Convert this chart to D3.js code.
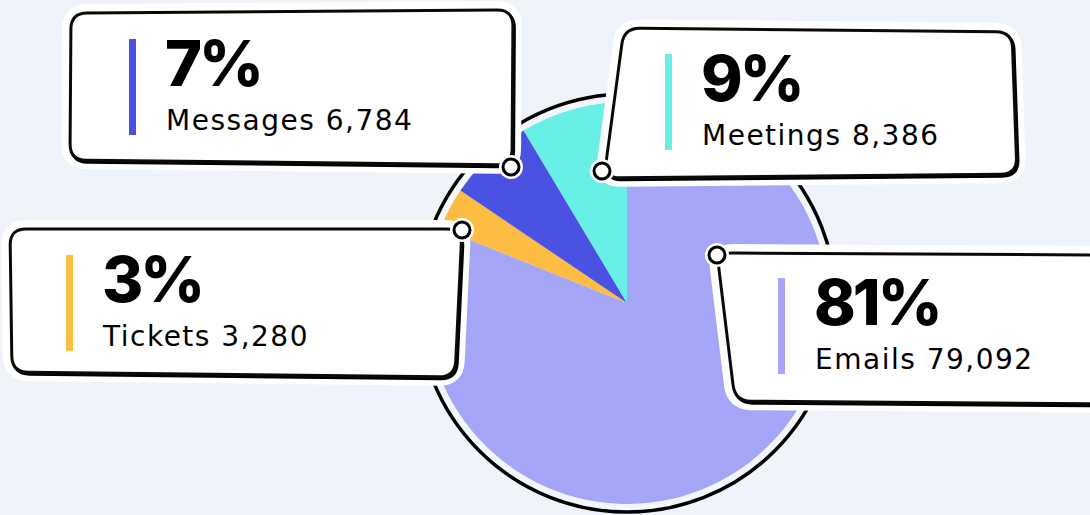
<!DOCTYPE html>
<html>
<head>
<meta charset="utf-8">
<script src="https://cdn.jsdelivr.net/npm/d3@7"></script>
<style>
  html, body { margin: 0; padding: 0; background: #eff4fb; }
  svg { display: block; }
</style>
</head>
<body>
<svg id="chart" width="1090" height="515"></svg>
<script>
// data
var categories = ["Emails", "Tickets", "Messages", "Meetings"];
var values = [79092, 3280, 6784, 8386];
var colors = ["#a5a6f8", "#fdbd43", "#4b51e0", "#68efe6"];

var svg = d3.select("#chart");
var cx = 627, cy = 303;

var total = d3.sum(values);
var data = categories.map(function (c, i) {
  return {name: c, value: values[i], pct: Math.round(values[i] / total * 100)};
});

var color = d3.scaleOrdinal().domain(categories).range(colors);
var fmt = d3.format(",");

// pie, clockwise from 12 o'clock
var pie = d3.pie().sort(null).value(function (d) { return d.value; });
var arc = d3.arc().innerRadius(0).outerRadius(201);

var g = svg.append("g").attr("transform", "translate(" + cx + "," + cy + ")");

g.append("circle").attr("r", 207).attr("fill", "#f4f6fe");

g.selectAll("path.slice")
  .data(pie(data))
  .enter().append("path")
    .attr("class", "slice")
    .attr("d", arc)
    .attr("fill", function (d) { return color(d.data.name); });

g.append("circle")
  .attr("r", 209)
  .attr("fill", "none")
  .attr("stroke", "#000")
  .attr("stroke-width", 3.5);

// callout layout (box corners TL, TR, BR, BL ; accent bar top-left ; marker)
var layout = {
  Messages: {pts: [[71, 13], [513, 10], [512, 165], [70, 160]], bar: [129, 39], dot: [511, 167]},
  Meetings: {pts: [[624, 28], [1012, 32], [1017, 174], [604, 178]], bar: [665, 54], dot: [602, 171]},
  Tickets:  {pts: [[10, 229], [462, 229], [455, 377], [12, 372]], bar: [66, 255], dot: [462, 230]},
  Emails:   {pts: [[717, 253], [1110, 255], [1110, 404], [735, 401]], bar: [778, 278], dot: [717, 255]}
};

function roundedPoly(pts, r) {
  var n = pts.length, s = "";
  for (var i = 0; i < n; i++) {
    var p0 = pts[(i + n - 1) % n], p1 = pts[i], p2 = pts[(i + 1) % n];
    var d1 = Math.hypot(p0[0] - p1[0], p0[1] - p1[1]);
    var d2 = Math.hypot(p2[0] - p1[0], p2[1] - p1[1]);
    var a = [p1[0] + (p0[0] - p1[0]) * r / d1, p1[1] + (p0[1] - p1[1]) * r / d1];
    var b = [p1[0] + (p2[0] - p1[0]) * r / d2, p1[1] + (p2[1] - p1[1]) * r / d2];
    s += (i === 0 ? "M" : "L") + a[0] + "," + a[1] + "Q" + p1[0] + "," + p1[1] + " " + b[0] + "," + b[1];
  }
  return s + "Z";
}

var order = ["Tickets", "Messages", "Meetings", "Emails"];
order.forEach(function (name) {
  var d = data.find(function (e) { return e.name === name; });
  var L = layout[name];
  var path = roundedPoly(L.pts, 16);
  var cg = svg.append("g");

  // white sticker halo
  cg.append("path").attr("d", path)
    .attr("fill", "#fff").attr("stroke", "#fff")
    .attr("stroke-width", 18).attr("stroke-linejoin", "round");
  // shadow
  cg.append("path").attr("d", path)
    .attr("transform", "translate(1.5,2)")
    .attr("fill", "none").attr("stroke", "#000").attr("stroke-width", 3);
  cg.append("path").attr("d", path)
    .attr("fill", "#fff").attr("stroke", "#0a0a0a").attr("stroke-width", 3);

  cg.append("rect")
    .attr("x", L.bar[0]).attr("y", L.bar[1])
    .attr("width", 7).attr("height", 96)
    .attr("fill", color(name));

  cg.append("text")
    .attr("x", L.bar[0] + 36).attr("y", L.bar[1] + 47)
    .attr("font-family", "Inter, sans-serif")
    .attr("font-weight", 800)
    .attr("font-size", 63)
    .attr("letter-spacing", -3)
    .attr("fill", "#000")
    .text(d.pct + "%");

  cg.append("text")
    .attr("x", L.bar[0] + 37).attr("y", L.bar[1] + 91)
    .attr("font-family", "'DejaVu Sans', sans-serif")
    .attr("font-size", 28)
    .attr("letter-spacing", 1.5)
    .attr("fill", "#000")
    .text(d.name + " " + fmt(d.value));

  // marker
  cg.append("circle").attr("cx", L.dot[0]).attr("cy", L.dot[1]).attr("r", 12).attr("fill", "#fff");
  cg.append("circle").attr("cx", L.dot[0]).attr("cy", L.dot[1]).attr("r", 8)
    .attr("fill", "#fff").attr("stroke", "#000").attr("stroke-width", 3);
});
</script>
</body>
</html>
